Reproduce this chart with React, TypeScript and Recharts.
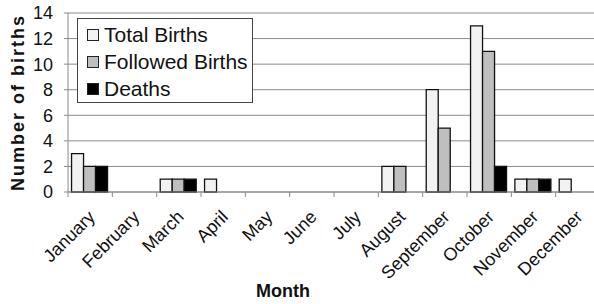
import { BarChart, Bar, XAxis, YAxis, CartesianGrid, Legend, Label } from 'recharts'

const months = [
  'January', 'February', 'March', 'April', 'May', 'June',
  'July', 'August', 'September', 'October', 'November', 'December',
]
const totalBirths = [3, 0, 1, 1, 0, 0, 0, 2, 8, 13, 1, 1]
const followedBirths = [2, 0, 1, 0, 0, 0, 0, 2, 5, 11, 1, 0]
const deaths = [2, 0, 1, 0, 0, 0, 0, 0, 0, 2, 1, 0]
const yTicks = [0, 2, 4, 6, 8, 10, 12, 14]
const seriesNames = ['Total Births', 'Followed Births', 'Deaths']

const chartData = months.map((m, i) => ({
  month: m,
  total: totalBirths[i],
  followed: followedBirths[i],
  deaths: deaths[i],
}))

const W = 610
const H = 304
const MARGIN = { top: 13, right: 10, bottom: 0, left: 0 }
const Y_W = 68
const FONT = 'Liberation Sans, Arial, sans-serif'
const AXIS = '#8a8a8a'
const BAND = (W - MARGIN.left - MARGIN.right - Y_W) / months.length

function MonthTick(props: any) {
  const { x, y, payload } = props
  const half = payload.offset ?? BAND / 2
  const ax = x + 6
  const ay = y + 26
  return (
    <g>
      <line x1={x - half} y1={y} x2={x - half} y2={y + 5} stroke={AXIS} />
      <text
        x={ax}
        y={ay}
        textAnchor="end"
        transform={`rotate(-45 ${ax} ${ay})`}
        fontSize={18}
        fontFamily={FONT}
        fill="#111"
      >
        {payload.value}
      </text>
    </g>
  )
}

function LegendBox(props: any) {
  const items = [...(props.payload || [])].sort(
    (a: any, b: any) => seriesNames.indexOf(a.value) - seriesNames.indexOf(b.value)
  )
  return (
    <div
      style={{
        background: '#fff',
        border: '1.5px solid #444',
        boxSizing: 'border-box',
        width: 176,
        height: 85,
        padding: '2px 0 0 9px',
        fontFamily: FONT,
      }}
    >
      {items.map((p: any) => (
        <div key={p.value} style={{ display: 'flex', alignItems: 'center', height: 27 }}>
          <span
            style={{
              display: 'inline-block',
              width: 10,
              height: 10,
              background: p.color,
              border: '1px solid #222',
              marginRight: 5,
            }}
          />
          <span style={{ fontSize: 21, color: '#111' }}>{p.value}</span>
        </div>
      ))}
    </div>
  )
}

function YTitle(props: any) {
  const { viewBox } = props
  const cx = viewBox.x + 24
  const cy = viewBox.y + viewBox.height / 2
  return (
    <text
      x={cx}
      y={cy}
      textAnchor="middle"
      transform={`rotate(-90 ${cx} ${cy})`}
      fontSize={18}
      fontWeight="bold"
      fontFamily={FONT}
      letterSpacing={2}
      fill="#111"
    >
      Number of births
    </text>
  )
}

function XTitle(props: any) {
  const { viewBox } = props
  return (
    <text
      x={283}
      y={viewBox.y + viewBox.height - 7}
      textAnchor="middle"
      fontSize={18}
      fontWeight="bold"
      fontFamily={FONT}
      fill="#111"
    >
      Month
    </text>
  )
}

export default function App() {
  return (
    <div style={{ position: 'fixed', left: 0, top: 0, width: 594, height: 304, overflow: 'hidden', background: '#fff' }}>
      <BarChart width={W} height={H} data={chartData} margin={MARGIN} barCategoryGap="8%" barGap={0}>
        <CartesianGrid vertical={false} stroke={AXIS} />
        <XAxis
          dataKey="month"
          interval={0}
          height={H - 192}
          tickLine={false}
          tickSize={0}
          tickMargin={0}
          axisLine={{ stroke: AXIS }}
          tick={<MonthTick />}
        >
          <Label content={<XTitle />} />
        </XAxis>
        <YAxis
          width={Y_W}
          domain={[0, 14]}
          ticks={yTicks}
          interval={0}
          tickSize={4}
          tickMargin={11}
          axisLine={{ stroke: AXIS }}
          tickLine={{ stroke: AXIS }}
          tick={{ fontSize: 18, fill: '#111', fontFamily: FONT }}
        >
          <Label content={<YTitle />} />
        </YAxis>
        <Legend
          layout="vertical"
          align="center"
          verticalAlign="middle"
          content={<LegendBox />}
          wrapperStyle={{ left: 77, top: 18, width: 176, height: 85 }}
        />
        <Bar dataKey="total" name="Total Births" fill="#f2f2f2" stroke="#111" strokeWidth={1.3} isAnimationActive={false} />
        <Bar dataKey="followed" name="Followed Births" fill="#bfbfbf" stroke="#111" strokeWidth={1.3} isAnimationActive={false} />
        <Bar dataKey="deaths" name="Deaths" fill="#000" stroke="#111" strokeWidth={1.3} isAnimationActive={false} />
      </BarChart>
    </div>
  )
}
